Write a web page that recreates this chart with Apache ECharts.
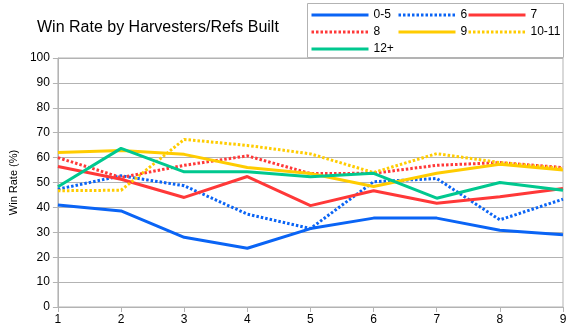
<!DOCTYPE html>
<html><head><meta charset="utf-8">
<script src="https://cdn.jsdelivr.net/npm/echarts@6/dist/echarts.min.js"></script>
<style>html,body{margin:0;padding:0;background:#fff}#c{width:575px;height:336px}</style>
</head><body><div id="c"></div>
<script>
const categories = ['1','2','3','4','5','6','7','8','9'];
const s0_5   = [41, 38.6, 28, 23.6, 31.5, 35.7, 35.7, 30.8, 29];
const s6     = [47.3, 52.7, 48.7, 37.3, 31.5, 50.3, 51.6, 35, 43.3];
const s7     = [56.4, 51.3, 44, 52.4, 40.7, 46.7, 41.7, 44.3, 47.6];
const s8     = [60, 52, 56.9, 60.7, 53.6, 53.7, 56.9, 58, 56];
const s9     = [62, 62.9, 61.3, 56, 53.6, 48.4, 53.7, 57.3, 55];
const s10_11 = [46.7, 46.9, 67.3, 64.9, 61.5, 54, 61.6, 58, 55.6];
const s12p   = [48.3, 63.7, 54.3, 54.3, 52.3, 53.7, 43.7, 50, 46.9];
const yTicks = [0,10,20,30,40,50,60,70,80,90,100];

const BLUE='#0a64f5', RED='#ff3838', YEL='#ffcc00', GRN='#00c88f';
const seriesDefs = [
  {name:'0-5', data:s0_5, color:BLUE, dot:false},
  {name:'6', data:s6, color:BLUE, dot:true},
  {name:'7', data:s7, color:RED, dot:false},
  {name:'8', data:s8, color:RED, dot:true},
  {name:'9', data:s9, color:YEL, dot:false},
  {name:'10-11', data:s10_11, color:YEL, dot:true},
  {name:'12+', data:s12p, color:GRN, dot:false}
];
const chart = echarts.init(document.getElementById('c'), null, {renderer:'canvas'});
const legBase = {orient:'vertical', top:9, itemWidth:57, itemHeight:14, itemGap:5,
  itemStyle:{opacity:0}, lineStyle:{width:3},
  textStyle:{fontFamily:'Liberation Sans', fontSize:12, color:'#000'}, selectedMode:false, padding:0};
chart.setOption({
  animation:false,
  title:{text:'Win Rate by Harvesters/Refs Built', left:37, top:20, padding:0,
    textStyle:{fontFamily:'Liberation Sans', fontSize:16, fontWeight:'normal', color:'#000'}},
  graphic:[{type:'rect', shape:{x:307.5, y:3.5, width:256, height:54}, style:{fill:'none', stroke:'#b3b3b3', lineWidth:1}, silent:true}],
  legend:[
    Object.assign({left:310, data:['0-5','8','12+']}, legBase),
    Object.assign({left:397, data:['6','9']}, legBase),
    Object.assign({left:467, data:['7','10-11']}, legBase)
  ],
  grid:{left:51, right:12, top:58, bottom:29, show:true, borderColor:'#b3b3b3', borderWidth:1},
  xAxis:{type:'category', data:categories, boundaryGap:false,
    axisLine:{lineStyle:{color:'#b3b3b3'}},
    axisTick:{show:true, length:5, lineStyle:{color:'#b3b3b3'}},
    axisLabel:{fontFamily:'Liberation Sans', fontSize:12, color:'#000', margin:7},
    splitLine:{show:false}},
  yAxis:{type:'value', min:yTicks[0], max:yTicks[yTicks.length-1], interval:10,
    name:'Win Rate (%)', nameLocation:'middle', nameGap:28, nameRotate:90,
    nameTextStyle:{fontFamily:'Liberation Sans', fontSize:11, color:'#000'},
    axisLine:{show:true, lineStyle:{color:'#b3b3b3'}},
    axisTick:{show:true, length:5, lineStyle:{color:'#b3b3b3'}},
    axisLabel:{fontFamily:'Liberation Sans', fontSize:12, color:'#000', margin:8},
    splitLine:{lineStyle:{color:'#b3b3b3'}}},
  series: seriesDefs.map(d=>({
    name:d.name, type:'line', data:d.data, symbol:'none', showSymbol:false,
    color:d.color,
    lineStyle:{color:d.color, width:3, type: d.dot ? [2.5,2] : 'solid'}
  }))
});
</script></body></html>
